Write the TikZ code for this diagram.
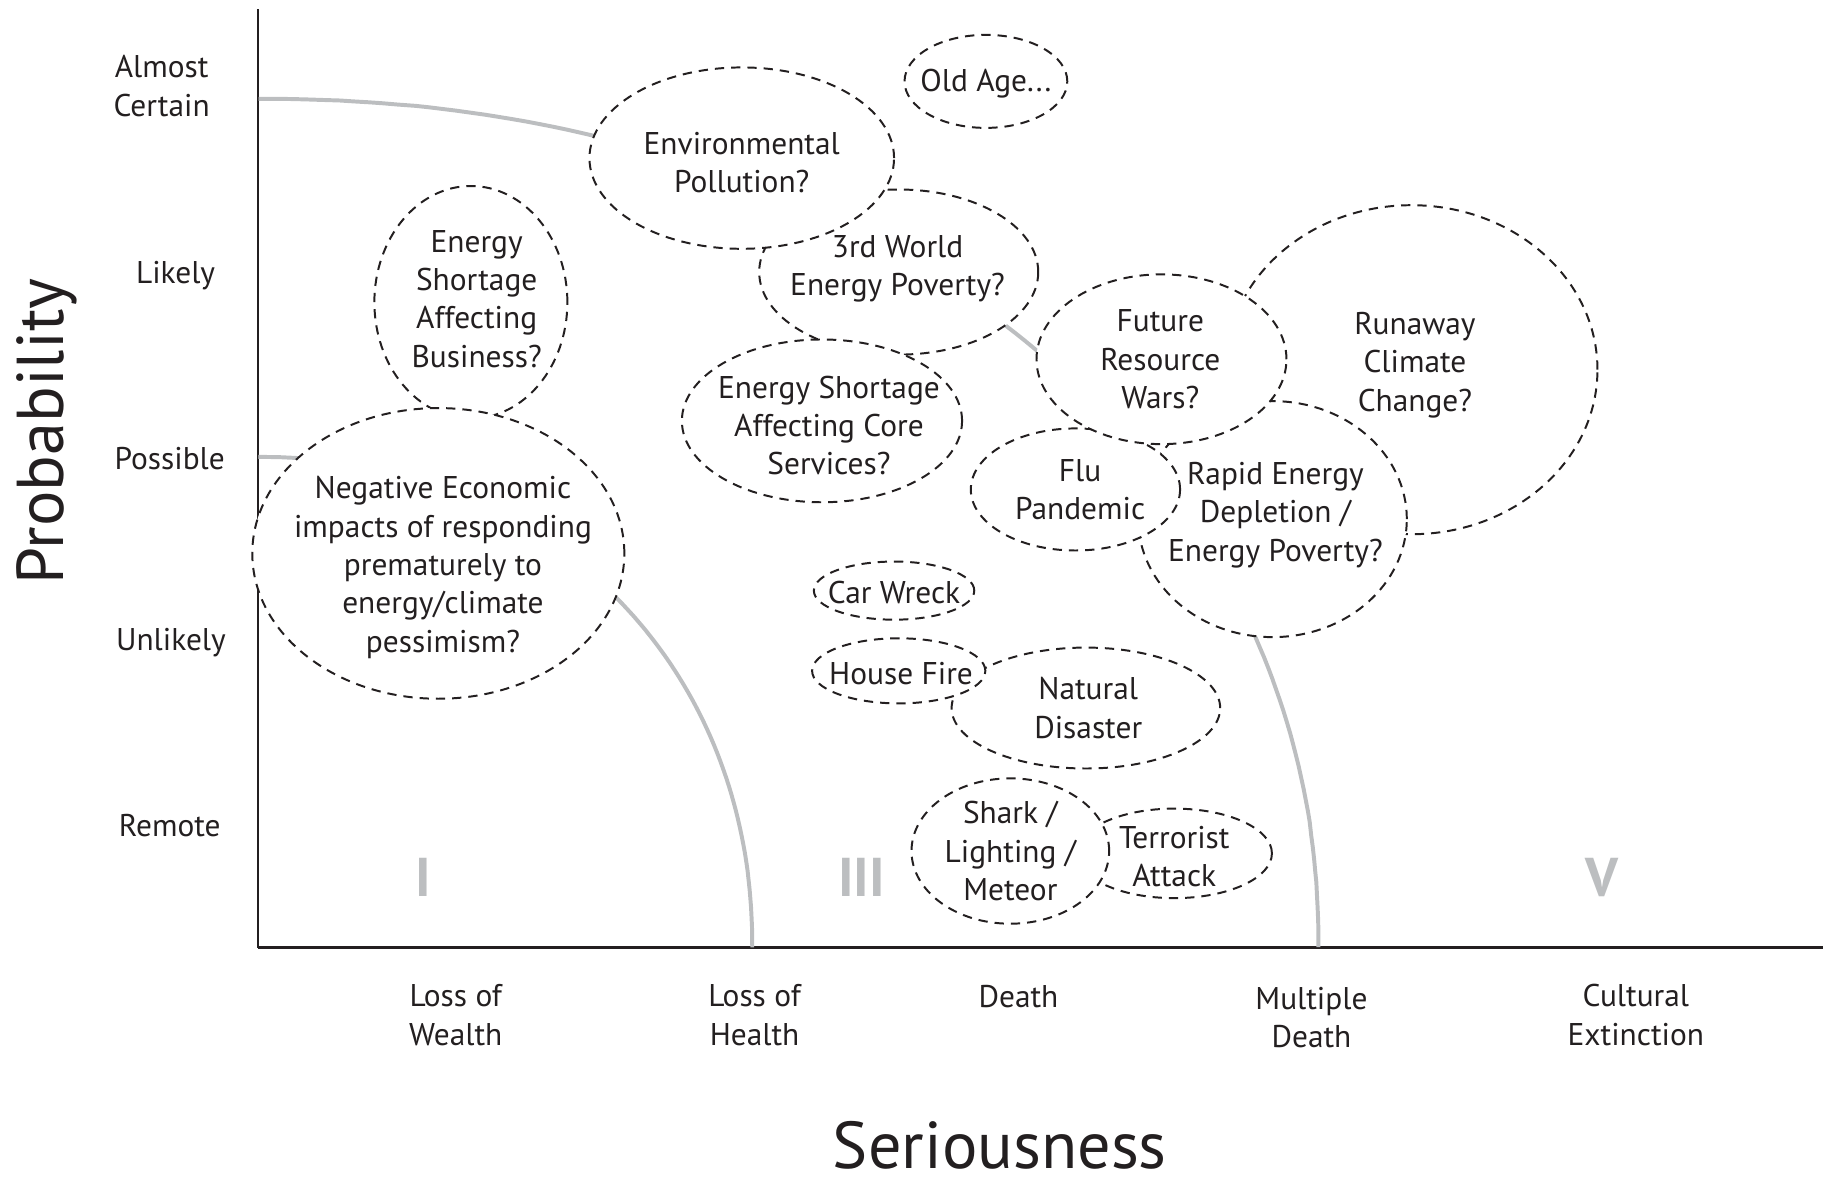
\documentclass[tikz,border=0pt]{standalone}
\usepackage{fontspec}
\setmainfont{PT Sans}
\usetikzlibrary{shapes.geometric}
\definecolor{ink}{HTML}{231F20}
\definecolor{zone}{HTML}{BCBEC0}
\begin{document}
\begin{tikzpicture}[x=1pt,y=-1pt,
  bubble/.style={ellipse, draw=ink, line width=1.7pt, dash pattern=on 8pt off 6pt, fill=white, inner sep=0pt},
  btext/.style={align=center, font=\fontsize{27}{33}\selectfont, text=ink, inner sep=0pt},
  axlabel/.style={align=center, font=\fontsize{27}{33}\selectfont, text=ink, inner sep=0pt},
  bigtitle/.style={font=\fontsize{57}{62}\selectfont, text=ink, inner sep=0pt},
  zonecurve/.style={draw=zone, line width=3.4pt},
  numeral/.style={font=\fontsize{47}{50}\selectfont\bfseries, text=zone, inner sep=0pt}
]
\useasboundingbox (0,0) rectangle (1568,1016);

% axes
\coordinate (O) at (222,815);
\coordinate (ytop) at (222,8);
\coordinate (xend) at (1568,815);
\draw[ink, line width=2pt] (ytop) -- (O);
\draw[ink, line width=2.6pt] (O) -- (xend);

% zone boundaries
\draw[zonecurve] plot[domain=0.02:89.98, samples=120, variable=\t]
  ({222+912*pow(cos(\t),0.952)}, {815-730*pow(sin(\t),0.952)});
\draw[zonecurve] plot[domain=0.02:89.98, samples=90, variable=\t]
  ({222+425*pow(cos(\t),0.952)}, {815-422*pow(sin(\t),0.952)});

% axis labels
\node[axlabel] (lac) at (139,74) {Almost\\Certain};
\node[axlabel] (lli) at (151,237) {Likely};
\node[axlabel] (lpo) at (146,394) {Possible};
\node[axlabel] (lun) at (147,553) {Unlikely};
\node[axlabel] (lre) at (146,710) {Remote};
\node[axlabel] (lw) at (392,873) {Loss of\\Wealth};
\node[axlabel] (lh) at (649,873) {Loss of\\Health};
\node[axlabel] (ld) at (876,857) {Death};
\node[axlabel] (lm) at (1128,875) {Multiple\\Death};
\node[axlabel] (lc) at (1407,873) {Cultural\\Extinction};
\node[bigtitle, rotate=90] (prob) at (40,371) {Probability};
\node[bigtitle] (ser) at (860,985) {Seriousness};

% zone numerals
\node[numeral] (z1) at (364,755) {I};
\node[numeral] (z3) at (741,755) {III};
\node[numeral] (z5) at (1378,755) {V};

% bubbles (back to front)
\node[bubble, minimum width=166pt, minimum height=200pt] (bus) at (405,260) {};
\node[btext] at (410,257) {Energy\\Shortage\\Affecting\\Business?};
\node[bubble, minimum width=320pt, minimum height=250pt] (neg) at (377,476) {};
\node[btext] at (381,488) {Negative Economic\\impacts of responding\\prematurely to\\energy/climate\\pessimism?};

\node[bubble, minimum width=240pt, minimum height=142pt] (third) at (773,234) {};
\node[btext] at (772,231) {3rd World\\Energy Poverty?};
\node[bubble, minimum width=262pt, minimum height=156pt] (env) at (638,136) {};
\node[btext] at (638,140) {Environmental\\Pollution?};
\node[bubble, minimum width=241pt, minimum height=140pt] (core) at (707,362) {};
\node[btext] at (713,366) {Energy Shortage\\Affecting Core\\Services?};

\node[bubble, minimum width=140pt, minimum height=80pt] (old) at (848,70) {};
\node[btext] at (848,72) {Old Age...};

\node[bubble, minimum width=320pt, minimum height=283pt] (run) at (1214,318) {};
\node[btext] at (1217,314) {Runaway\\Climate\\Change?};
\node[bubble, minimum width=231pt, minimum height=203pt] (rapid) at (1094.5,446.5) {};
\node[btext] at (1097,443) {Rapid Energy\\Depletion /\\Energy Poverty?};
\node[bubble, minimum width=180pt, minimum height=105pt] (flu) at (925,421) {};
\node[btext] at (929,421) {Flu\\Pandemic};
\node[bubble, minimum width=215pt, minimum height=146pt] (fut) at (999,309) {};
\node[btext] at (998,309) {Future\\Resource\\Wars?};

\node[bubble, minimum width=138pt, minimum height=50pt] (car) at (769,508) {};
\node[btext] at (769,510) {Car Wreck};
\node[bubble, minimum width=231pt, minimum height=104pt] (nat) at (934,609) {};
\node[btext] at (936,609) {Natural\\Disaster};
\node[bubble, minimum width=149pt, minimum height=56pt] (house) at (773,577) {};
\node[btext] at (775,579) {House Fire};

\node[bubble, minimum width=168pt, minimum height=77pt] (ter) at (1010,734) {};
\node[btext] at (1010,737) {Terrorist\\Attack};
\node[bubble, minimum width=170pt, minimum height=125pt] (shark) at (869,732) {};
\node[btext] at (869,732) {Shark /\\Lighting /\\Meteor};
\end{tikzpicture}
\end{document}
